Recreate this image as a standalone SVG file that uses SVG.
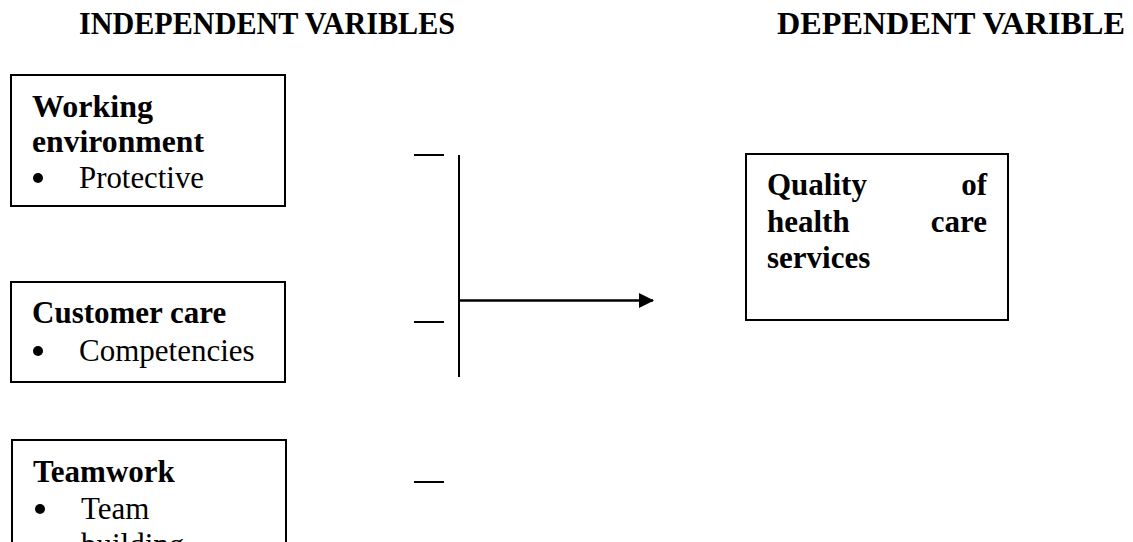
<svg xmlns="http://www.w3.org/2000/svg" width="1133" height="542" viewBox="0 0 1133 542">
<defs>
<style>
text{font-family:"Liberation Serif","Times New Roman",serif;font-size:31px;fill:#000}
.b{font-weight:bold}
.box{fill:#fff;stroke:#000;stroke-width:2}
.ln{stroke:#000;stroke-width:2;fill:none}
.bul{fill:#000}
</style>
<marker id="ah" markerWidth="15" markerHeight="15" refX="14" refY="7.5" orient="auto" markerUnits="userSpaceOnUse">
<path d="M0,0 L15,7.5 L0,15 Z" fill="#000"/>
</marker>
</defs>
<rect width="1133" height="542" fill="#fff"/>
<g id="headers">
<text class="b" x="79" y="34" textLength="376" lengthAdjust="spacingAndGlyphs">INDEPENDENT VARIBLES</text>
<text class="b" x="777" y="34" textLength="348" lengthAdjust="spacingAndGlyphs">DEPENDENT VARIBLE</text>
</g>
<g id="working-environment">
<rect class="box" x="11" y="75" width="274" height="131"/>
<text class="b" x="32" y="117" textLength="121" lengthAdjust="spacingAndGlyphs">Working</text>
<text class="b" x="32" y="152" textLength="172" lengthAdjust="spacingAndGlyphs">environment</text>
<circle class="bul" cx="38" cy="178" r="5"/>
<text x="79" y="188" textLength="125" lengthAdjust="spacingAndGlyphs">Protective</text>
</g>
<g id="customer-care">
<rect class="box" x="11" y="282" width="274" height="100"/>
<text class="b" x="32" y="323">Customer care</text>
<circle class="bul" cx="38" cy="351" r="5"/>
<text x="79" y="361">Competencies</text>
</g>
<g id="teamwork">
<rect class="box" x="12" y="440" width="274" height="130"/>
<text class="b" x="33" y="482">Teamwork</text>
<circle class="bul" cx="40" cy="509" r="5"/>
<text x="81" y="519">Team</text>
<text x="81" y="555">building</text>
</g>
<g id="quality">
<rect class="box" x="746" y="154" width="262" height="166"/>
<text class="b" x="767" y="195">Quality</text>
<text class="b" x="987" y="195" text-anchor="end">of</text>
<text class="b" x="767" y="232">health</text>
<text class="b" x="987" y="232" text-anchor="end">care</text>
<text class="b" x="767" y="268">services</text>
</g>
<g id="connectors">
<line class="ln" x1="414" y1="155" x2="444" y2="155"/>
<line class="ln" x1="414" y1="322" x2="444" y2="322"/>
<line class="ln" x1="414" y1="482" x2="444" y2="482"/>
<line class="ln" x1="459" y1="155" x2="459" y2="377"/>
<line class="ln" style="stroke-width:2.5" x1="459" y1="300.5" x2="653" y2="300.5" marker-end="url(#ah)"/>
</g>
</svg>
